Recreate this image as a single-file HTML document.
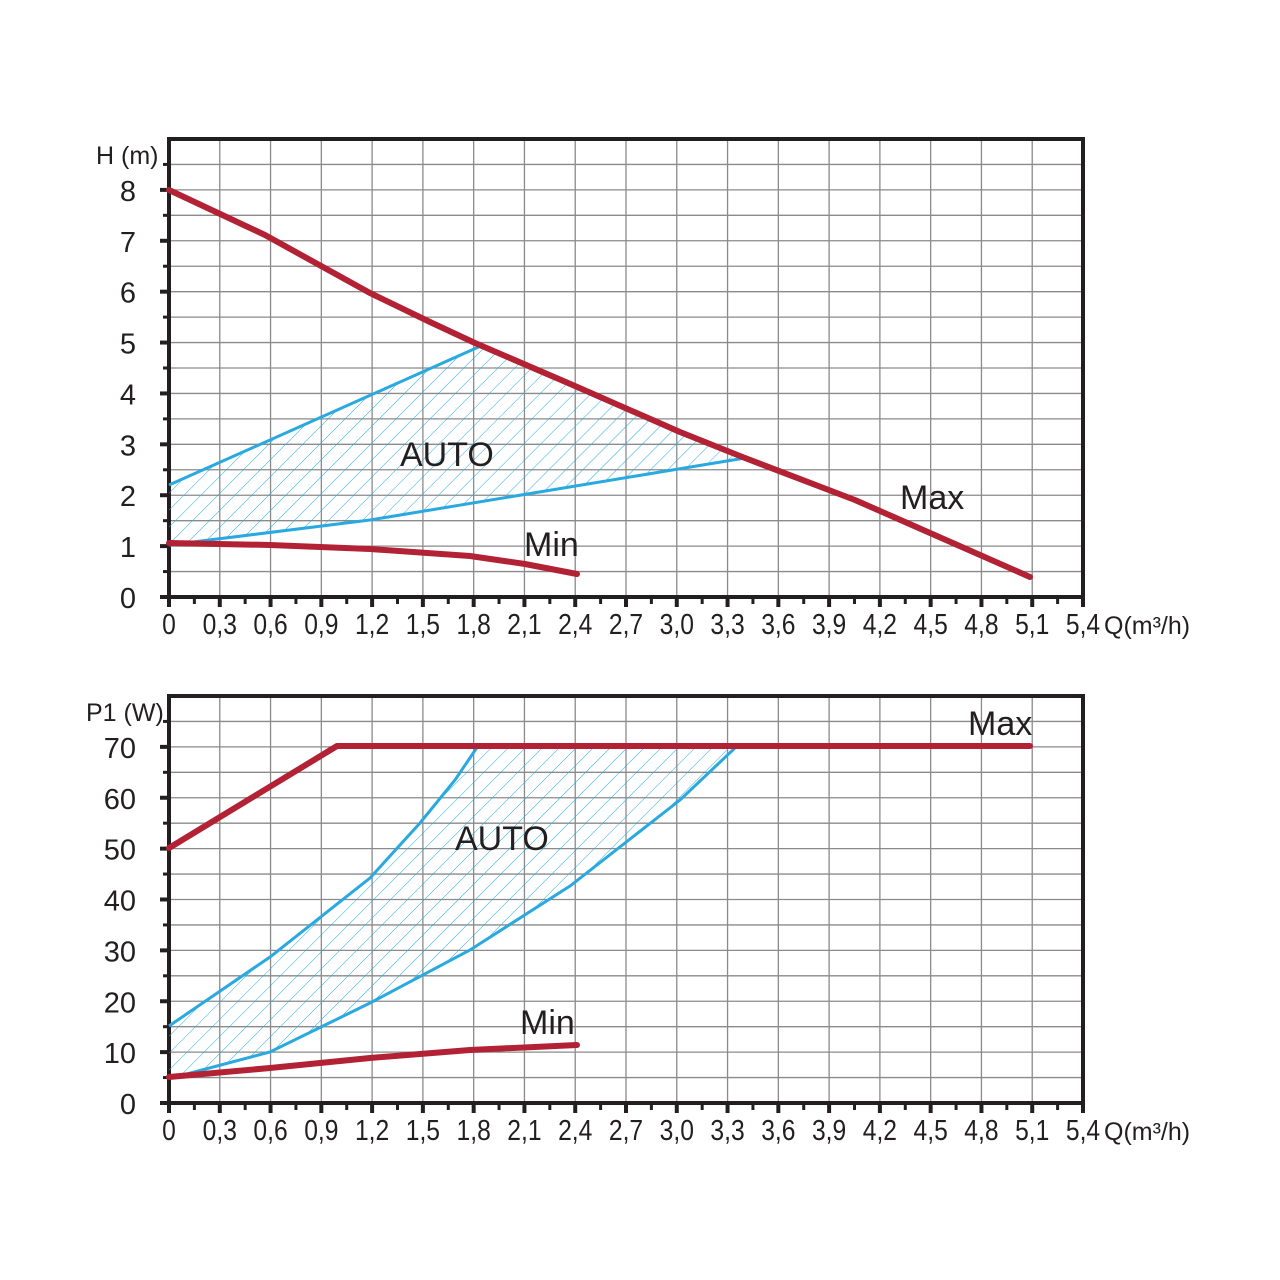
<!DOCTYPE html>
<html><head><meta charset="utf-8"><style>
html,body{margin:0;padding:0;background:#fff;width:1280px;height:1280px;overflow:hidden}
text{font-family:"Liberation Sans",sans-serif;fill:#231f20}
</style></head><body>
<svg id="s" width="1280" height="1280" xmlns="http://www.w3.org/2000/svg">
<defs>
<pattern id="h" patternUnits="userSpaceOnUse" width="12" height="12" patternTransform="rotate(45)">
<line x1="0" y1="0" x2="0" y2="12" stroke="#29a9e0" stroke-width="1"/>
</pattern>
</defs>
<g id="g"></g>
<path d="M169,485 L483,345 L575,386 L680,432 L745,458 L370,520 L169,545 Z" fill="url(#h)"/>
<polyline points="169,485 483,345" fill="none" stroke="#29a9e0" stroke-width="3"/>
<polyline points="169,545 370,520 745,458" fill="none" stroke="#29a9e0" stroke-width="3"/>
<polyline points="169,190 265,235 370,293 430,322 475,343 575,386 680,432 745,458 855,500 1030,577" fill="none" stroke="#b22234" stroke-width="6" stroke-linejoin="round" stroke-linecap="round"/>
<polyline points="169,543 270,545 370,549 470,556 525,564 577,574" fill="none" stroke="#b22234" stroke-width="6" stroke-linejoin="round" stroke-linecap="round"/>
<text x="400" y="466" font-size="34">AUTO</text>
<text x="900" y="509" font-size="34">Max</text>
<text x="524" y="556" font-size="34">Min</text>
<path d="M169,1026 L270,957 L370,878 L420,823 L455,780 L478,746 L737,746 L680,800 L570,886 L470,950 L370,1003 L270,1052 L169,1077 Z" fill="url(#h)"/>
<polyline points="169,1026 270,957 370,878 420,823 455,780 478,746" fill="none" stroke="#29a9e0" stroke-width="3"/>
<polyline points="183,1075 270,1052 370,1003 470,950 570,886 680,800 737,746" fill="none" stroke="#29a9e0" stroke-width="3"/>
<polyline points="169,848 337,746 1030,746" fill="none" stroke="#b22234" stroke-width="6" stroke-linejoin="round" stroke-linecap="round"/>
<polyline points="169,1077 270,1068 370,1058 470,1050 577,1045" fill="none" stroke="#b22234" stroke-width="6" stroke-linejoin="round" stroke-linecap="round"/>
<text x="455" y="850" font-size="34">AUTO</text>
<text x="968" y="735" font-size="34">Max</text>
<text x="520" y="1034" font-size="34">Min</text>
</svg>
<script>
(function(){
var g=document.getElementById('g'),NS='http://www.w3.org/2000/svg';
function el(t,a,txt){var e=document.createElementNS(NS,t);for(var k in a)e.setAttribute(k,a[k]);if(txt!==undefined)e.textContent=txt;g.appendChild(e);return e;}
var xl=169,xr=1083,dx=(xr-xl)/18;
function chart(top,bot,n,labels,ylab){
 var dy=(bot-top)/n;
 for(var i=1;i<n;i++){var y=bot-i*dy;el('line',{x1:xl,x2:xr,y1:y,y2:y,stroke:'#8a8a8a','stroke-width':1.3});
  var major=(i%2==0);el('line',{x1:major?160:163,x2:xl,y1:y,y2:y,stroke:'#231f20','stroke-width':major?4:3});}
 for(var j=1;j<18;j++){var x=xl+j*dx;el('line',{x1:x,x2:x,y1:top,y2:bot,stroke:'#8a8a8a','stroke-width':1.3});}
 for(var j=0;j<=36;j++){var x=xl+j*dx/2;var major=j%2==0;el('line',{x1:x,x2:x,y1:bot,y2:bot+(major?10:7),stroke:'#231f20','stroke-width':major?4:3});}
 el('line',{x1:160,x2:xl,y1:bot,y2:bot,stroke:'#231f20','stroke-width':4});
 el('rect',{x:xl,y:top,width:xr-xl,height:bot-top,fill:'none',stroke:'#231f20','stroke-width':4});
 var xs=['0','0,3','0,6','0,9','1,2','1,5','1,8','2,1','2,4','2,7','3,0','3,3','3,6','3,9','4,2','4,5','4,8','5,1','5,4'];
 for(var j=0;j<19;j++){el('text',{x:xl+j*dx,y:bot+37,'font-size':29,'text-anchor':'middle',transform:'translate('+(xl+j*dx)+',0) scale(0.85,1) translate('+(-(xl+j*dx))+',0)'},xs[j]);}
 el('text',{x:1104,y:bot+37,'font-size':25},'Q(m\u00b3/h)');
 for(var k=0;k<labels.length;k++){var y=bot-k*2*dy;el('text',{x:136,y:y+11,'font-size':29,'text-anchor':'end'},labels[k]);}
 el('text',{x:ylab[1],y:top+25,'font-size':25},ylab[0]);
}
chart(139,597,18,['0','1','2','3','4','5','6','7','8'],['H (m)',96]);
chart(696,1103,16,['0','10','20','30','40','50','60','70'],['P1 (W)',86]);
})();
</script>
</body></html>
